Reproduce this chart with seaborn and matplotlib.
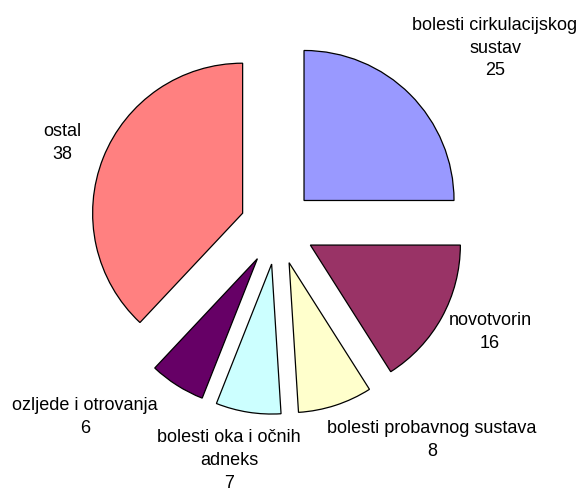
import matplotlib
matplotlib.use("Agg")
import matplotlib.pyplot as plt
import seaborn as sb

# Podaci
categories = ["bolesti cirkulacijskog\nsustav", "novotvorin", "bolesti probavnog sustava",
              "bolesti oka i očnih\nadneks", "ozljede i otrovanja", "ostal"]
values = [25, 16, 8, 7, 6, 38]
colors = ["#9999FF", "#993366", "#FFFFCC", "#CCFFFF", "#660066", "#FF8080"]

# položaji oznaka (u jedinicama polumjera)
label_xy = [(1.45, 1.193), (1.417, -0.70), (1.03, -1.42),
            (-0.323, -1.555), (-1.283, -1.267), (-1.437, 0.56)]

sb.set_theme(style="white")
plt.rcParams['font.family'] = ['Liberation Sans', 'DejaVu Sans']

fig = plt.figure(figsize=(5.85, 4.93), dpi=100)
ax = fig.add_axes([0, 0, 1, 1])

ax.pie(values, colors=sb.color_palette(colors), startangle=90, counterclock=False,
       explode=[0.25] * len(values),
       wedgeprops=dict(edgecolor="black", linewidth=0.9))

for cat, val, (x, y) in zip(categories, values, label_xy):
    ax.text(x, y, f"{cat}\n{val}", ha="center", va="center", multialignment="center",
            fontsize=13, color="black", linespacing=1.45)

# centar kruga na (277.5, 227) px, polumjer 150 px
ax.set_xlim(-277.5 / 150, (585 - 277.5) / 150)
ax.set_ylim(-(493 - 227) / 150, 227 / 150)
ax.axis("off")

fig.savefig("out.png", dpi=100)
